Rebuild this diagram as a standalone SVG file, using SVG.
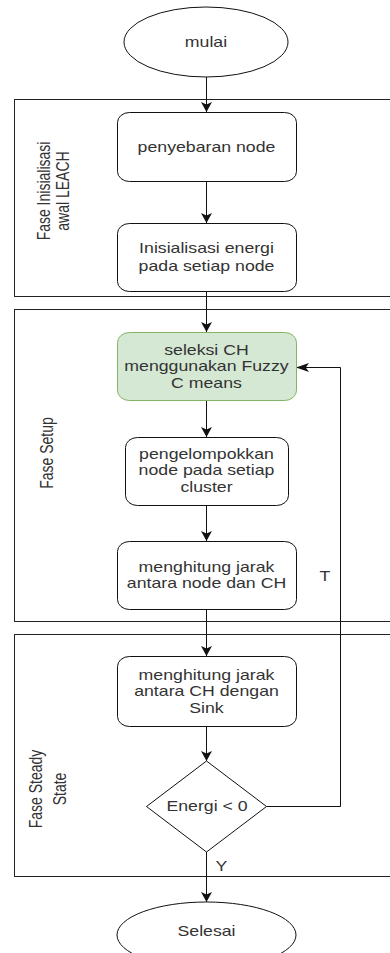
<svg xmlns="http://www.w3.org/2000/svg" width="390" height="953" viewBox="0 0 390 953">
<style>
.lane{fill:none;stroke:#222;stroke-width:1}
.box{fill:#fff;stroke:#111;stroke-width:1}
.green{fill:#d5e8d4;stroke:#82b366;stroke-width:1}
.t{font-family:"Liberation Sans",Arial,sans-serif;font-size:14px;fill:#333;text-anchor:middle}
.lt{font-family:"Liberation Sans",Arial,sans-serif;font-size:14px;fill:#333;text-anchor:middle}
.c{fill:none;stroke:#111;stroke-width:1}
</style>
<defs>
<marker id="arrV" viewBox="0 0 10 10" refX="10" refY="5" markerWidth="10" markerHeight="11" markerUnits="userSpaceOnUse" orient="auto" preserveAspectRatio="none">
<path d="M0,0 L10,5 L0,10 L2.5,5 Z" fill="#111"/>
</marker>
<marker id="arrH" viewBox="0 0 10 10" refX="10" refY="5" markerWidth="13" markerHeight="9" markerUnits="userSpaceOnUse" orient="auto" preserveAspectRatio="none">
<path d="M0,0 L10,5 L0,10 L2.5,5 Z" fill="#111"/>
</marker>
</defs>
<rect width="390" height="953" fill="#fff"/>

<g id="lane-inisialisasi">
<rect class="lane" x="14.5" y="99.5" width="400" height="197"/>
<text class="lt" transform="translate(50,191) scale(1.265,1) rotate(-90)">Fase Inisialisasi</text>
<text class="lt" transform="translate(69,191) scale(1.265,1) rotate(-90)">awal LEACH</text>
</g>
<g id="lane-setup">
<rect class="lane" x="14.5" y="309.5" width="400" height="312"/>
<text class="lt" transform="translate(52.5,453) scale(1.265,1) rotate(-90)">Fase Setup</text>
</g>
<g id="lane-steady">
<rect class="lane" x="14.5" y="634.5" width="400" height="242"/>
<text class="lt" transform="translate(42,789) scale(1.265,1) rotate(-90)">Fase Steady</text>
<text class="lt" transform="translate(65.5,789) scale(1.265,1) rotate(-90)">State</text>
</g>

<g id="connectors">
<path class="c" d="M206.5,77 V112" marker-end="url(#arrV)"/>
<path class="c" d="M206.5,182 V223" marker-end="url(#arrV)"/>
<path class="c" d="M206.5,292 V332" marker-end="url(#arrV)"/>
<path class="c" d="M206.5,401 V437" marker-end="url(#arrV)"/>
<path class="c" d="M206.5,506 V541" marker-end="url(#arrV)"/>
<path class="c" d="M206.5,610 V656" marker-end="url(#arrV)"/>
<path class="c" d="M206.5,727 V761" marker-end="url(#arrV)"/>
<path class="c" d="M206.5,852 V902" marker-end="url(#arrV)"/>
<path class="c" d="M266.5,806.5 H340.5 V367.5 H296" marker-end="url(#arrH)"/>
<text class="t" transform="translate(325,0) scale(1.265,1)"><tspan x="0" y="581.5">T</tspan></text>
<text class="t" transform="translate(221.5,0) scale(1.265,1)"><tspan x="0" y="871">Y</tspan></text>
</g>

<g id="mulai">
<ellipse class="box" cx="206" cy="42" rx="82" ry="35"/>
<text class="t" transform="translate(206,0) scale(1.265,1)"><tspan x="0" y="47.5">mulai</tspan></text>
</g>
<g id="penyebaran">
<rect class="box" x="117.5" y="112.5" width="179" height="69" rx="12" ry="10"/>
<text class="t" transform="translate(206.5,0) scale(1.265,1)"><tspan x="0" y="152">penyebaran node</tspan></text>
</g>
<g id="inisialisasi">
<rect class="box" x="117.5" y="223.5" width="179" height="68" rx="12" ry="10"/>
<text class="t" transform="translate(206.5,0) scale(1.265,1)"><tspan x="0" y="253.5">Inisialisasi energi</tspan><tspan x="0" y="271">pada setiap node</tspan></text>
</g>
<g id="seleksi">
<rect class="green" x="117.5" y="332.5" width="179" height="68" rx="12" ry="10"/>
<text class="t" transform="translate(206.5,0) scale(1.265,1)"><tspan x="0" y="355">seleksi CH</tspan><tspan x="0" y="371.5">menggunakan Fuzzy</tspan><tspan x="0" y="388">C means</tspan></text>
</g>
<g id="pengelompokkan">
<rect class="box" x="125.5" y="437.5" width="163" height="68" rx="12" ry="10"/>
<text class="t" transform="translate(206.5,0) scale(1.265,1)"><tspan x="0" y="459">pengelompokkan</tspan><tspan x="0" y="475.5">node pada setiap</tspan><tspan x="0" y="492">cluster</tspan></text>
</g>
<g id="jarak-node-ch">
<rect class="box" x="117.5" y="541.5" width="179" height="68" rx="12" ry="10"/>
<text class="t" transform="translate(206.5,0) scale(1.265,1)"><tspan x="0" y="572">menghitung jarak</tspan><tspan x="0" y="588.5">antara node dan CH</tspan></text>
</g>
<g id="jarak-ch-sink">
<rect class="box" x="117.5" y="656.5" width="179" height="70" rx="12" ry="10"/>
<text class="t" transform="translate(206.5,0) scale(1.265,1)"><tspan x="0" y="680">menghitung jarak</tspan><tspan x="0" y="696.5">antara CH dengan</tspan><tspan x="0" y="713">Sink</tspan></text>
</g>
<g id="energi">
<polygon class="box" points="206.5,761 266.5,806.5 206.5,852 146.5,806.5"/>
<text class="t" transform="translate(207,0) scale(1.265,1)"><tspan x="0" y="811.5">Energi &lt; 0</tspan></text>
</g>
<g id="selesai">
<ellipse class="box" cx="206.5" cy="935" rx="89.5" ry="33"/>
<text class="t" transform="translate(206.5,0) scale(1.265,1)"><tspan x="0" y="936">Selesai</tspan></text>
</g>
</svg>
